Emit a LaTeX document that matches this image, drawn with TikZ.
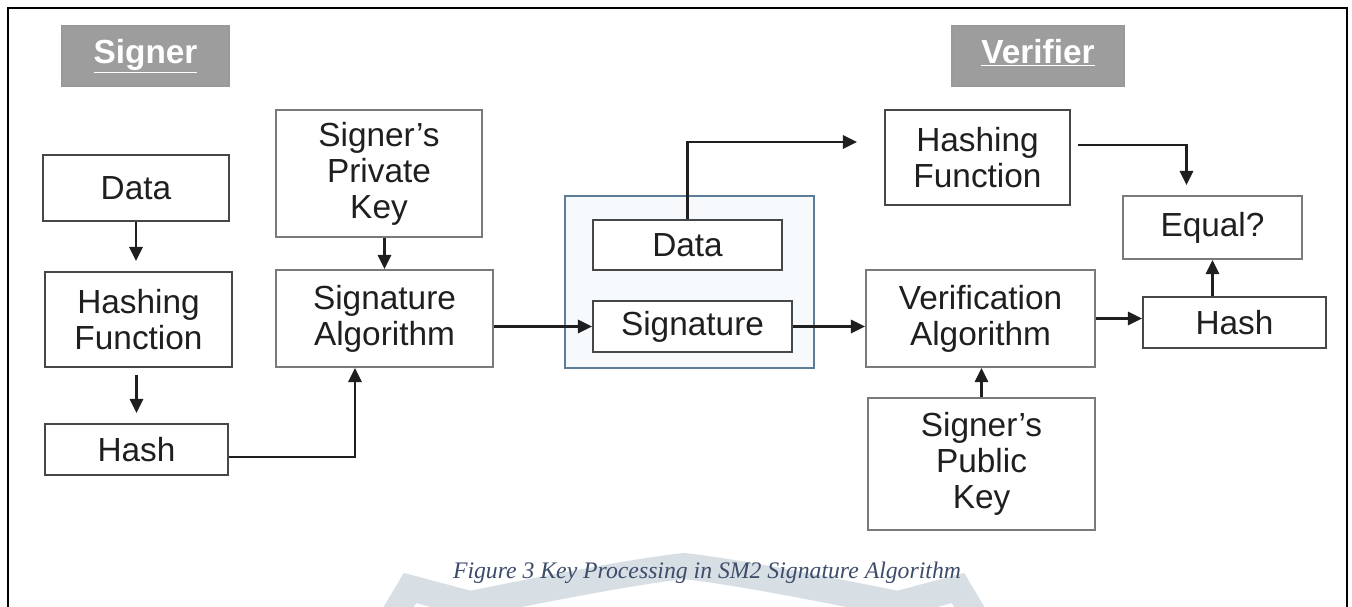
\documentclass[tikz,border=0pt]{standalone}
\usepackage{fontspec}
\setmainfont{Liberation Serif}
\newfontfamily\boxfont{Liberation Sans}
\usetikzlibrary{positioning,arrows.meta,calc}
\definecolor{boxline}{HTML}{474747}
\definecolor{boxlight}{HTML}{7A7A7A}
\definecolor{tagfill}{HTML}{9D9D9D}
\definecolor{bundleline}{HTML}{5F7C96}
\definecolor{bundlefill}{HTML}{F6FAFC}
\definecolor{captionblue}{HTML}{3D4C6B}
\definecolor{markgrey}{HTML}{D7DFE5}

\begin{document}
\begin{tikzpicture}[x=0.02cm,y=-0.02cm,
  blk/.style={draw=boxline, line width=1.2pt, fill=white, align=center, inner sep=0pt, text=black!88, font=\boxfont\fontsize{19}{20.5}\selectfont},
  blklight/.style={blk, draw=boxlight},
  tag/.style={fill=tagfill, draw=black!40, line width=0.8pt, inner sep=0pt, minimum width=#1, minimum height=1.2cm, text height=13pt, text depth=5pt, text=white, font=\boxfont\bfseries\fontsize{19}{20}\selectfont},
  flow/.style={draw=black!88, line width=1.45pt, -{Triangle[length=8pt,width=7.5pt]}}]
\useasboundingbox (0,0) rectangle (1352,606);
\clip (0,0) rectangle (1352,606);
\fill[white] (0,0) rectangle (1352,606);
\draw[markgrey, line width=0.52cm, line join=miter] (382,635) -- (410,588) -- (470,604) .. controls (540,590) and (630,572) .. (684,566) .. controls (738,572) and (828,590) .. (898,604) -- (958,588) -- (986,635);
\draw[line width=1.4pt] (8,625) -- (8,8) -- (1347,8) -- (1347,625);

\node[tag=3.34cm] (signer) at (145.5,56) {\underline{Signer}};
\node[tag=3.44cm] (verifier) at (1038,56) {\underline{Verifier}};

\node[blk, minimum width=3.72cm, minimum height=1.32cm] (dataL) at (136,188) {Data};
\node[blk, minimum width=3.74cm, minimum height=1.9cm] (hashfL) at (138.5,319.5) {Hashing\\Function};
\node[blk, minimum width=3.66cm, minimum height=1.02cm] (hashL) at (136.5,449.5) {Hash};
\node[blklight, minimum width=4.12cm, minimum height=2.54cm] (privkey) at (379,173.5) {Signer’s\\Private\\Key};
\node[blklight, minimum width=4.34cm, minimum height=1.94cm] (sigalg) at (384.5,318.5) {Signature\\Algorithm};

\node[draw=bundleline, fill=bundlefill, line width=1.2pt, minimum width=4.98cm, minimum height=3.44cm, inner sep=0pt] (bundle) at (689.5,282) {};
\node[blk, minimum width=3.78cm, minimum height=1.0cm] (dataM) at (687.5,245) {Data};
\node[blk, minimum width=3.98cm, minimum height=1.02cm] (sigM) at (692.5,326.5) {Signature};

\node[blk, minimum width=3.7cm, minimum height=1.9cm] (hashfR) at (977.5,157.5) {Hashing\\Function};
\node[blklight, minimum width=3.58cm, minimum height=1.26cm] (equal) at (1212.5,227.5) {Equal?};
\node[blklight, minimum width=4.58cm, minimum height=1.94cm] (verif) at (980.5,318.5) {Verification\\Algorithm};
\node[blk, minimum width=3.66cm, minimum height=1.02cm] (hashR) at (1234.5,322.5) {Hash};
\node[blklight, minimum width=4.54cm, minimum height=2.64cm] (pubkey) at (981.5,464) {Signer’s\\Public\\Key};

\draw[flow, shorten >=0.2cm] (dataL.south) -- (dataL.south |- hashfL.north);
\draw[flow, shorten <=0.14cm, shorten >=0.2cm] (hashfL.south -| hashL.north) -- (hashL.north);
\draw[flow] ([yshift=-0.15cm]hashL.east) -| ([xshift=-0.59cm]sigalg.south);
\draw[flow] (sigalg.north |- privkey.south) -- (sigalg.north);
\draw[flow] (sigalg.east |- sigM.west) -- (sigM.west);
\draw[flow, shorten >=0.54cm] (dataM.north) |- ([yshift=0.31cm]hashfR.west);
\draw[flow] (sigM.east) -- (sigM.east -| verif.west);
\draw[flow] (verif.east) -- (verif.east -| hashR.west);
\draw[flow] (pubkey.north) -- (pubkey.north |- verif.south);
\draw[flow] (equal.south |- hashR.north) -- (equal.south);
\draw[flow, shorten <=0.14cm, shorten >=0.2cm] ([yshift=0.25cm]hashfR.east) -| ([xshift=-0.52cm]equal.north);

\node[font=\itshape\fontsize{13.5}{16}\selectfont, text=captionblue, anchor=base] (caption) at (707,578) {Figure 3 Key Processing in SM2 Signature Algorithm};
\end{tikzpicture}
\end{document}
